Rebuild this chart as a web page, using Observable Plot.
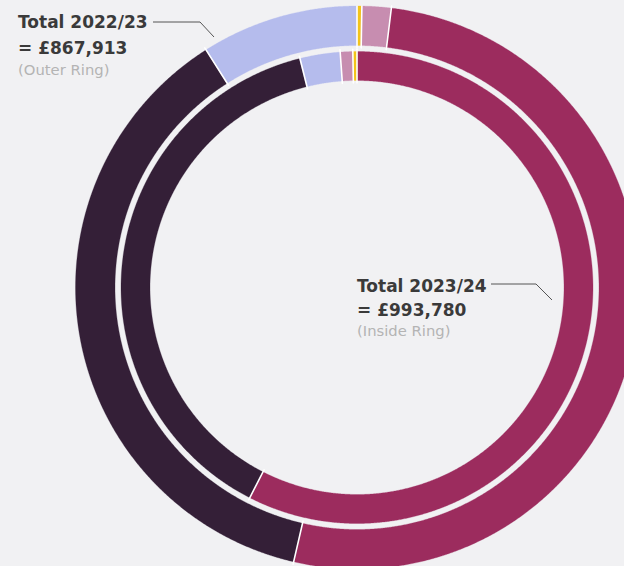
<!DOCTYPE html>
<html><head><meta charset="utf-8">
<script src="https://cdn.jsdelivr.net/npm/d3@7"></script>
<script src="https://cdn.jsdelivr.net/npm/@observablehq/plot@0.6"></script>
<style>
html,body{margin:0;padding:0;background:#f1f1f3;overflow:hidden;width:624px;height:566px;}
#chart{position:absolute;left:0;top:0;}
#notes{position:absolute;left:0;top:0;}
.big{font-family:"DejaVu Sans",sans-serif;font-weight:bold;font-size:17px;fill:#3a3a3a;}
.small{font-family:"DejaVu Sans",sans-serif;font-size:14.8px;fill:#b4b4b4;}
</style></head><body>
<div id="chart"></div>
<svg id="notes" width="624" height="566"></svg>
<script>
// Categories (colour order: yellow, light pink, magenta, dark plum, lavender)
const categories = ["Category 1", "Category 2", "Category 3", "Category 4", "Category 5"];
const colors = ["#f3c41a", "#c78db0", "#9c2c5e", "#341f37", "#b5bced"];

// Outer ring: 2022/23, values per category
const values2022 = [2400, 14500, 448413, 324400, 78200];
// clockwise order from 12 o'clock (indices into categories)
const order2022 = [0, 1, 2, 3, 4];

// Inner ring: 2023/24, values per category
const values2023 = [2800, 8500, 571480, 383700, 27300];
const order2023 = [2, 3, 4, 1, 0];

const ringLabels = ["Total 2022/23", "Total 2023/24"];
const ringNotes = ["(Outer Ring)", "(Inside Ring)"];

// geometry (pixels -> degrees of angular distance from the pole)
const pxOuter = 281.5;
const degOuter = 60;
const k = pxOuter / degOuter;
const rings = [
  {name: "2022/23", values: values2022, order: order2022, rIn: 242 / k, rOut: 281.5 / k},
  {name: "2023/24", values: values2023, order: order2023, rIn: 207 / k, rOut: 236 / k}
];
const lon = t => 180 - t;

const features = [];
const separators = [];
for (const ring of rings) {
  const total = d3.sum(ring.values);
  let acc = 0;
  for (const idx of ring.order) {
    const t0 = acc / total * 360;
    acc += ring.values[idx];
    const t1 = acc / total * 360;
    const n = Math.max(2, Math.ceil((t1 - t0) / 0.25));
    const outer = [], inner = [];
    for (let i = 0; i <= n; i++) {
      const t = t0 + (t1 - t0) * i / n;
      outer.push([lon(t), 90 - ring.rOut]);
      inner.push([lon(t), 90 - ring.rIn]);
    }
    const coords = [...outer, ...inner.reverse(), outer[0]];
    const f = {type: "Feature", properties: {cat: categories[idx], ring: ring.name, value: ring.values[idx]},
      geometry: {type: "Polygon", coordinates: [coords]}};
    if (d3.geoArea(f) > 2 * Math.PI) coords.reverse();
    features.push(f);
    separators.push({type: "Feature", properties: {}, geometry: {type: "LineString",
      coordinates: [[lon(t0), 90 - ring.rIn + 0.5], [lon(t0), 90 - ring.rOut - 0.5]]}});
  }
}

const chart = Plot.plot({
  width: 640,
  height: 572,
  marginLeft: 75,
  marginTop: 5.5,
  marginRight: 2,
  marginBottom: 3.5,
  style: {background: "transparent", maxWidth: "none", overflow: "visible"},
  projection: {
    type: "azimuthal-equidistant",
    rotate: [0, -90],
    domain: d3.geoCircle().center([0, 90]).radius(degOuter).precision(0.25)()
  },
  color: {domain: categories, range: colors},
  marks: [
    Plot.geo(features, {fill: d => d.properties.cat, stroke: d => d.properties.cat, strokeWidth: 0.3}),
    Plot.geo(separators, {stroke: "#ffffff", strokeWidth: 1.6})
  ]
});
document.getElementById("chart").appendChild(chart);

// annotations
const fmt = d3.format(",");
const totals = [d3.sum(values2022), d3.sum(values2023)];
const notes = d3.select("#notes");
const ann = [
  {x: 18, y: [28, 54, 75], line: [[153, 22], [200, 22], [214, 37]]},
  {x: 357, y: [291.5, 316, 336], line: [[491, 284], [536, 284], [552, 300]]}
];
ann.forEach((a, i) => {
  notes.append("text").attr("class", "big").attr("x", a.x).attr("y", a.y[0]).text(ringLabels[i]);
  notes.append("text").attr("class", "big").attr("x", a.x).attr("y", a.y[1]).text("= £" + fmt(totals[i]));
  notes.append("text").attr("class", "small").attr("x", a.x).attr("y", a.y[2]).text(ringNotes[i]);
  notes.append("path").attr("d", d3.line()(a.line)).attr("fill", "none").attr("stroke", "#555").attr("stroke-width", 1);
});
</script>
</body></html>
